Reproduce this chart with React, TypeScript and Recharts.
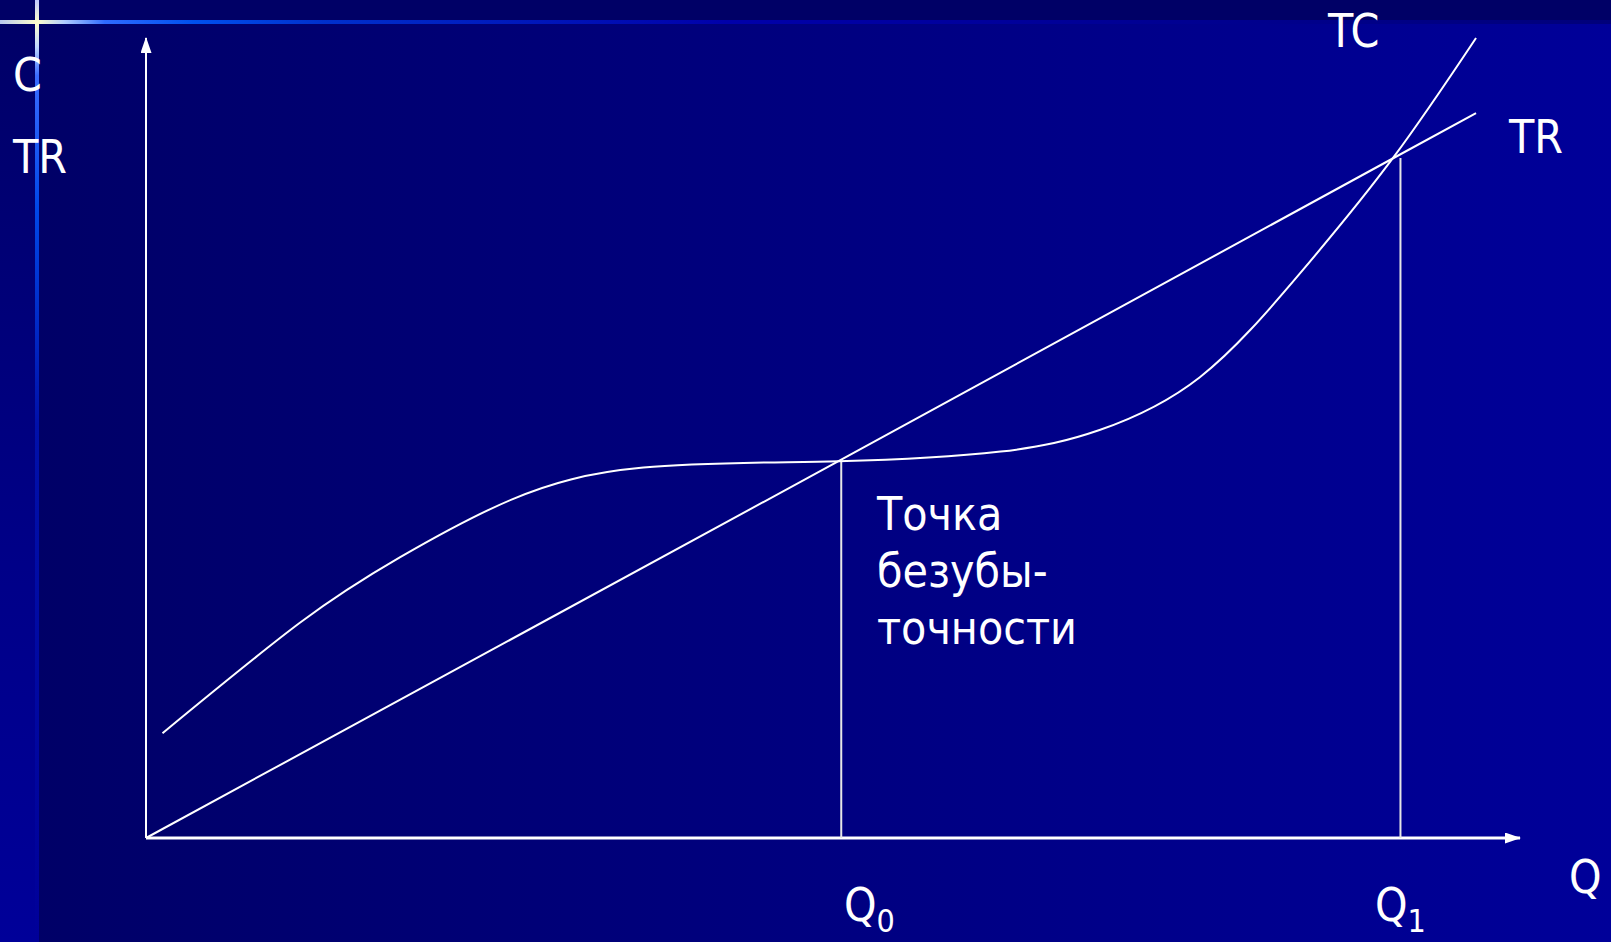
import { ComposedChart, Line, XAxis, YAxis, ReferenceLine } from 'recharts'

// quantity on x (0..100), cost / revenue on y (0..100)
const tcQ = [1.2, 11.2, 18.5, 26.6, 36.2, 50.4, 62.2, 69.4, 76.7, 84.0, 90.8, 96.8]
const tcValues = [13.1, 26.9, 35.1, 42.3, 46.3, 47.1, 48.3, 51.0, 57.6, 70.6, 85.1, 100]
const trQ = [0, 50.5, 90.8, 96.8]
const trValues = [0, 47.2, 85.0, 90.6]

const q0 = 50.6
const q1 = 91.3
const levelQ0 = 47.2
const levelQ1 = 85.0

const note = ['Точка', 'безубы-', 'точности']

const tcData = tcQ.map((q, i) => ({ q, v: tcValues[i] }))
const trData = trQ.map((q, i) => ({ q, v: trValues[i] }))

const W = 1611
const H = 942
const font = "'DejaVu Sans', 'Liberation Sans', sans-serif"

function Background() {
  return (
    <svg width={W} height={H} style={{ position: 'absolute', left: 0, top: 0 }}>
      <defs>
        <linearGradient id="bgMain" x1="0" y1="0" x2="1" y2="0">
          <stop offset="0" stopColor="#000066" />
          <stop offset="1" stopColor="#000099" />
        </linearGradient>
        <linearGradient id="bgStrip" x1="0" y1="0" x2="0" y2="1">
          <stop offset="0" stopColor="#000066" />
          <stop offset="0.6" stopColor="#000088" />
          <stop offset="1" stopColor="#000099" />
        </linearGradient>
        <linearGradient id="hLine" x1="0" y1="0" x2="1" y2="0">
          <stop offset="0" stopColor="#b8c8f0" />
          <stop offset="0.023" stopColor="#ffffcc" />
          <stop offset="0.04" stopColor="#b0ccff" />
          <stop offset="0.065" stopColor="#2f6bff" />
          <stop offset="0.12" stopColor="#0050ee" />
          <stop offset="0.2" stopColor="#0030cc" />
          <stop offset="0.45" stopColor="#0000aa" />
          <stop offset="1" stopColor="#00007a" />
        </linearGradient>
        <linearGradient id="vLine" x1="0" y1="0" x2="0" y2="1">
          <stop offset="0" stopColor="#c0c8ff" />
          <stop offset="0.024" stopColor="#ffffcc" />
          <stop offset="0.05" stopColor="#c0d8ff" />
          <stop offset="0.08" stopColor="#3a6cff" />
          <stop offset="0.22" stopColor="#0048e8" />
          <stop offset="0.45" stopColor="#0010aa" />
          <stop offset="1" stopColor="#000099" />
        </linearGradient>
      </defs>
      <rect x={0} y={0} width={W} height={H} fill="url(#bgMain)" />
      <rect x={0} y={0} width={36} height={H} fill="url(#bgStrip)" />
      <rect x={0} y={0} width={W} height={22} fill="#000066" />
      <rect x={0} y={20} width={W} height={4} fill="url(#hLine)" />
      <rect x={35} y={0} width={4} height={H} fill="url(#vLine)" />
    </svg>
  )
}

function Labels() {
  const t = { fill: '#fff', fontFamily: font, fontSize: 46, fontStretch: 'condensed' as const }
  return (
    <svg width={W} height={H} style={{ position: 'absolute', left: 0, top: 0, pointerEvents: 'none' }}>
      <text x={13} y={91} {...t}>C</text>
      <text x={13} y={173} {...t}>TR</text>
      <text x={1328} y={47} {...t}>TC</text>
      <text x={1509} y={153} {...t}>TR</text>
      <text x={1569} y={893} {...t}>Q</text>
      <text x={844} y={921} {...t}>Q<tspan fontSize={32} dy={11}>0</tspan></text>
      <text x={1375} y={921} {...t}>Q<tspan fontSize={32} dy={11}>1</tspan></text>
      {note.map((s, i) => (
        <text key={s} x={877} y={530 + i * 57} {...t}>{s}</text>
      ))}
    </svg>
  )
}

export default function App() {
  return (
    <div style={{ position: 'absolute', left: 0, top: 0, width: W, height: H, overflow: 'hidden' }}>
      <Background />
      <svg width={0} height={0} style={{ position: 'absolute' }}>
        <defs>
          <marker id="arrowHead" markerWidth={16} markerHeight={11} refX={15} refY={5.5}
            orient="auto" markerUnits="userSpaceOnUse">
            <path d="M0,0 L16,5.5 L0,11 z" fill="#fff" />
          </marker>
        </defs>
      </svg>
      <div style={{ position: 'absolute', left: 0, top: 0 }}>
        <ComposedChart width={W} height={H} margin={{ top: 38, right: 91, bottom: 104, left: 146 }}>
          <XAxis type="number" dataKey="q" domain={[0, 100]} hide />
          <YAxis type="number" domain={[0, 100]} hide />
          {/* axes with arrowheads */}
          <ReferenceLine segment={[{ x: 0, y: 0 }, { x: 100, y: 0 }]} stroke="#fff" strokeWidth={3}
            markerEnd="url(#arrowHead)" ifOverflow="visible" />
          <ReferenceLine segment={[{ x: 0, y: 0 }, { x: 0, y: 100 }]} stroke="#fff" strokeWidth={2}
            markerEnd="url(#arrowHead)" ifOverflow="visible" />
          <ReferenceLine segment={[{ x: q0, y: 0 }, { x: q0, y: levelQ0 }]} stroke="#e6e6e6" strokeWidth={2} />
          <ReferenceLine segment={[{ x: q1, y: 0 }, { x: q1, y: levelQ1 }]} stroke="#e6e6e6" strokeWidth={2} />
          <Line data={trData} dataKey="v" type="linear" stroke="#fff" strokeWidth={2} dot={false} isAnimationActive={false} />
          <Line data={tcData} dataKey="v" type="natural" stroke="#fff" strokeWidth={2} dot={false} isAnimationActive={false} />
        </ComposedChart>
      </div>
      <Labels />
    </div>
  )
}
